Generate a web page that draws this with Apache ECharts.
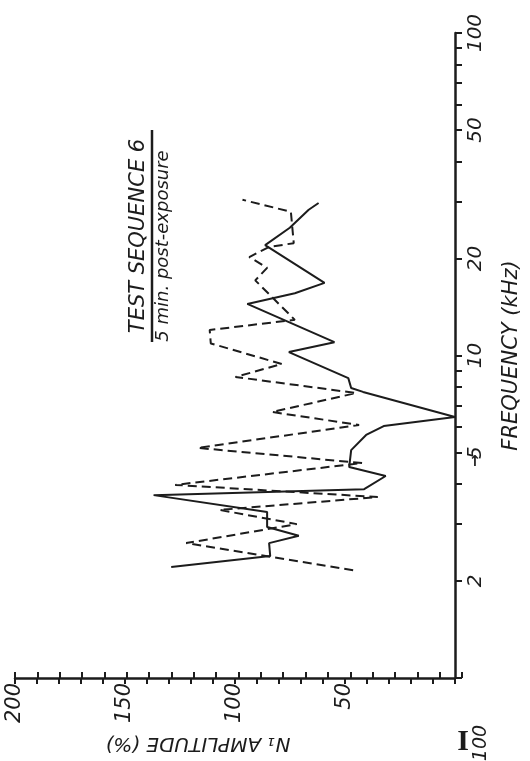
<!DOCTYPE html>
<html><head><meta charset="utf-8">
<script src="https://cdn.jsdelivr.net/npm/echarts@6/dist/echarts.min.js"></script>
<style>html,body{margin:0;padding:0;background:#fff}#c{width:530px;height:761px}</style>
</head><body><div id="c"></div>
<script>
// Solid curve: frequency (kHz) and N1 amplitude (%)
const freqSolid = [2.21, 2.39, 2.62, 2.76, 2.94, 3.27, 3.69, 3.85, 4.23, 4.51, 5.09, 5.67, 6.04, 6.45, 7.71, 7.93, 8.51, 10.25, 11.0, 14.45, 15.6, 16.8, 22.0, 24.9, 28.3, 29.7];
const ampSolid  = [129, 84, 84.5, 71, 85.4, 85.4, 137, 41.3, 31.5, 48.1, 47.2, 40.4, 32.4, 0, 41.8, 47.2, 48.5, 75.5, 54.8, 94.4, 72.8, 59.3, 86.3, 75.1, 66.5, 62];
// Dashed curve
const freqDashed = [2.16, 2.62, 3.00, 3.32, 3.64, 3.97, 4.64, 5.17, 6.09, 6.68, 7.65, 8.58, 9.41, 10.9, 12.0, 12.9, 17.1, 18.7, 20.2, 21.7, 22.3, 27.9, 30.4];
const ampDashed  = [46.3, 122.2, 71.9, 107, 35.1, 127.2, 42.2, 116.9, 43.6, 83.1, 44.9, 99.8, 78.7, 111, 111.5, 72.8, 90.8, 85.4, 93.5, 84.5, 73.3, 74.6, 96.6];
// Axis ticks and labels
const ampLabels = [50, 100, 150, 200];
const freqTicks = [1, 2, 3, 4, 5, 6, 7, 8, 9, 10, 20, 30, 40, 50, 60, 70, 80, 90, 100];
const freqLabels = [2, 5, 10, 20, 50, 100];

const INK = '#1c1c1c';
const FONT = 'DejaVu Sans';
const chart = echarts.init(document.getElementById('c'), null, {renderer: 'canvas'});
const gridRect = {left: 15, right: 68, top: 33, bottom: 83};
const zip = (a, f) => a.map((v, i) => [v, f[i]]);

chart.setOption({
  animation: false,
  backgroundColor: '#fff',
  grid: [Object.assign({}, gridRect), Object.assign({}, gridRect)],
  xAxis: [{
    type: 'value', gridIndex: 0, inverse: true, min: 0, max: 200, interval: 10, position: 'bottom',
    axisLine: {lineStyle: {color: INK, width: 2.5}},
    axisTick: {length: 6, lineStyle: {color: INK, width: 2}},
    axisLabel: {customValues: ampLabels, rotate: 90, margin: 5, color: INK, fontSize: 21, fontStyle: 'italic', fontFamily: FONT},
    splitLine: {show: false}
  }, {
    type: 'value', gridIndex: 1, inverse: true, min: 0, max: 200, interval: 10, position: 'bottom',
    axisLine: {show: false},
    axisTick: {inside: true, length: 6, lineStyle: {color: INK, width: 2}},
    axisLabel: {show: false}, splitLine: {show: false}
  }],
  yAxis: [{
    type: 'log', logBase: 10, gridIndex: 0, min: 1, max: 100, position: 'right',
    name: 'FREQUENCY (kHz)', nameLocation: 'middle', nameRotate: 90, nameGap: 46,
    nameTextStyle: {color: INK, fontSize: 21, fontStyle: 'italic', fontFamily: FONT},
    axisLine: {lineStyle: {color: INK, width: 2.5}},
    axisTick: {customValues: freqTicks, length: 5, lineStyle: {color: INK, width: 2}},
    axisLabel: {customValues: freqLabels, rotate: 90, margin: 11, color: INK, fontSize: 20, fontStyle: 'italic', fontFamily: FONT},
    splitLine: {show: false}, minorTick: {show: false}
  }, {
    type: 'log', logBase: 10, gridIndex: 1, min: 1, max: 100, position: 'right',
    axisLine: {show: false},
    axisTick: {customValues: freqTicks, inside: true, length: 5, lineStyle: {color: INK, width: 2}},
    axisLabel: {show: false}, splitLine: {show: false}
  }],
  series: [{
    type: 'line', xAxisIndex: 0, yAxisIndex: 0, data: zip(ampSolid, freqSolid),
    symbol: 'none', lineStyle: {color: INK, width: 2}
  }, {
    type: 'line', xAxisIndex: 0, yAxisIndex: 0, data: zip(ampDashed, freqDashed),
    symbol: 'none', lineStyle: {color: INK, width: 2, type: [9, 5]}
  }],
  graphic: [
    {type: 'text', x: 139, y: 236, rotation: Math.PI / 2,
     style: {text: 'TEST SEQUENCE 6', font: 'italic 21px "DejaVu Sans"', fill: INK, textAlign: 'center', textVerticalAlign: 'middle'}},
    {type: 'line', shape: {x1: 152, y1: 130, x2: 152, y2: 342}, style: {stroke: INK, lineWidth: 2.5}},
    {type: 'text', x: 163, y: 246, rotation: Math.PI / 2,
     style: {text: '5 min. post-exposure', font: 'italic 18px "DejaVu Sans"', fill: INK, textAlign: 'center', textVerticalAlign: 'middle'}},
    {type: 'text', x: 198, y: 743, rotation: Math.PI,
     style: {text: 'N\u2081 AMPLITUDE (%)', font: 'italic 20px "DejaVu Sans"', fill: INK, textAlign: 'center', textVerticalAlign: 'middle'}},
    {type: 'text', x: 463, y: 742,
     style: {text: 'I', font: 'bold 30px "Liberation Serif"', fill: INK, textAlign: 'center', textVerticalAlign: 'middle'}},
    {type: 'text', x: 481, y: 743, rotation: Math.PI / 2,
     style: {text: '100', font: 'italic 19px "DejaVu Sans"', fill: INK, textAlign: 'center', textVerticalAlign: 'middle'}},
    {type: 'text', x: 475, y: 462,
     style: {text: '\u2191', font: 'bold 15px "DejaVu Sans"', fill: INK, textAlign: 'center', textVerticalAlign: 'middle'}}
  ]
});
</script></body></html>
